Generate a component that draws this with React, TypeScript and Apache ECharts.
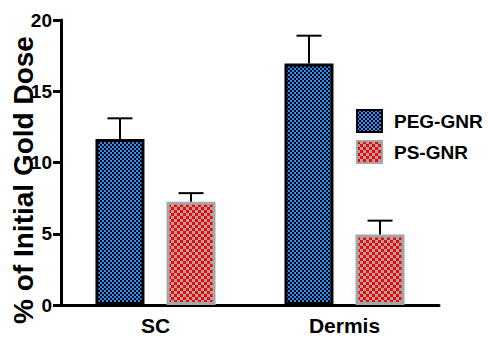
import React, { useEffect, useRef } from "react";
import * as echarts from "echarts";

const categories = ["SC", "Dermis"];
const pegValues = [11.65, 16.95];
const pegErrors = [1.45, 1.95];
const psValues = [7.25, 4.95];
const psErrors = [0.6, 0.97];
const seriesNames = ["PEG-GNR", "PS-GNR"];
const yMin = 0;
const yMax = 20;
const yInterval = 5;

const FONT = '"Liberation Sans", Arial, sans-serif';
const BAR_WIDTH = 49;
const BAR_GAP = 0.45;

function makeChecker(size: number, a: string, b: string) {
  const c = document.createElement("canvas");
  c.width = size * 2;
  c.height = size * 2;
  const ctx = c.getContext("2d")!;
  ctx.fillStyle = b;
  ctx.fillRect(0, 0, size * 2, size * 2);
  ctx.fillStyle = a;
  ctx.fillRect(0, 0, size, size);
  ctx.fillRect(size, size, size, size);
  return c;
}

export default function App() {
  const ref = useRef<HTMLDivElement>(null);
  useEffect(() => {
    if (!ref.current) return;
    const chart = echarts.init(ref.current, null, { renderer: "svg" });
    const bluePattern = {
      image: makeChecker(2, "#000000", "#2990ff"),
      repeat: "repeat",
    };
    const redPattern = {
      image: makeChecker(3, "#ff0000", "#a6a6a6"),
      repeat: "repeat",
    };
    const offset = (BAR_WIDTH * (1 + BAR_GAP)) / 2;
    const errSeries = (vals: number[], errs: number[], dir: number) => ({
      type: "custom",
      z: 5,
      silent: true,
      data: vals.map((v, i) => [i, v, errs[i]]),
      renderItem: (params: any, api: any) => {
        const idx = api.value(0);
        const v = api.value(1);
        const e = api.value(2);
        const base = api.coord([idx, v]);
        const top = api.coord([idx, v + e]);
        const x = base[0] + dir * offset;
        const cap = 12.5;
        return {
          type: "group",
          children: [
            {
              type: "line",
              shape: { x1: x, y1: base[1], x2: x, y2: top[1] },
              style: { stroke: "#000", lineWidth: 2 },
            },
            {
              type: "line",
              shape: { x1: x - cap, y1: top[1], x2: x + cap, y2: top[1] },
              style: { stroke: "#000", lineWidth: 2 },
            },
          ],
        };
      },
    });
    chart.setOption({
      animation: false,
      backgroundColor: "#fff",
      grid: { left: 61, top: 20, width: 378, height: 285 },
      legend: {
        orient: "vertical",
        left: 356,
        top: 109,
        padding: 0,
        itemWidth: 25,
        itemHeight: 22,
        itemGap: 7,
        icon: "rect",
        data: seriesNames,
        textStyle: {
          fontFamily: FONT,
          fontSize: 19,
          fontWeight: "bold",
          color: "#000",
          padding: [0, 0, 0, 7],
        },
      },
      xAxis: {
        type: "category",
        data: categories,
        axisLine: { lineStyle: { color: "#000", width: 3 } },
        axisTick: {
          alignWithLabel: true,
          length: 8,
          lineStyle: { color: "#000", width: 2 },
        },
        axisLabel: {
          fontFamily: FONT,
          fontSize: 21,
          fontWeight: "bold",
          color: "#000",
          margin: 10,
        },
      },
      yAxis: {
        type: "value",
        min: yMin,
        max: yMax,
        interval: yInterval,
        splitLine: { show: false },
        axisLine: { show: true, lineStyle: { color: "#000", width: 3 } },
        axisTick: { show: true, length: 8, lineStyle: { color: "#000", width: 3 } },
        axisLabel: {
          fontFamily: FONT,
          fontSize: 19,
          fontWeight: "bold",
          color: "#000",
          margin: 9,
        },
      },
      graphic: [
        {
          type: "text",
          x: 23,
          y: 180,
          rotation: Math.PI / 2,
          style: {
            text: "% of Initial Gold Dose",
            font: `bold 28px ${FONT}`,
            fill: "#000",
            align: "center",
            verticalAlign: "middle",
          },
        },
      ],
      series: [
        {
          name: seriesNames[0],
          type: "bar",
          data: pegValues,
          barWidth: BAR_WIDTH,
          barGap: `${BAR_GAP * 100}%`,
          itemStyle: { color: bluePattern, borderColor: "#000", borderWidth: 3 },
        },
        {
          name: seriesNames[1],
          type: "bar",
          data: psValues,
          barWidth: BAR_WIDTH,
          barGap: `${BAR_GAP * 100}%`,
          itemStyle: { color: redPattern, borderColor: "#a6a6a6", borderWidth: 3 },
        },
        errSeries(pegValues, pegErrors, -1),
        errSeries(psValues, psErrors, 1),
      ],
    });
    return () => chart.dispose();
  }, []);
  return (
    <div
      ref={ref}
      style={{ position: "absolute", left: 0, top: 0, width: 488, height: 339 }}
    />
  );
}
